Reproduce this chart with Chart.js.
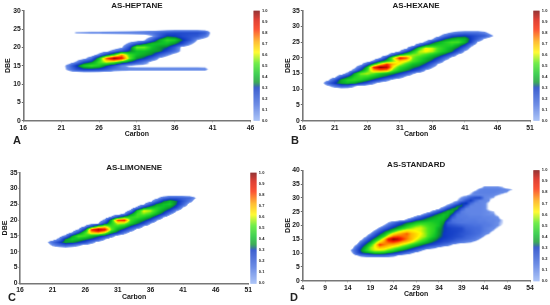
<!DOCTYPE html>
<html>
<head>
<meta charset="utf-8">
<script src="https://cdn.jsdelivr.net/npm/chart.js@4"></script>
<style>
html,body{margin:0;padding:0;background:#fff;overflow:hidden}
canvas{position:absolute;filter:blur(0.3px)}
.tag{position:absolute;font:bold 11px "Liberation Sans";color:#222;line-height:11px}
</style>
</head>
<body>
<canvas id="chartA"></canvas>
<canvas id="chartB"></canvas>
<canvas id="chartC"></canvas>
<canvas id="chartD"></canvas>
<div class="tag" style="left:13px;top:135px">A</div>
<div class="tag" style="left:291px;top:135px">B</div>
<div class="tag" style="left:8px;top:292px">C</div>
<div class="tag" style="left:290px;top:292px">D</div>
<script>
// each row: DBE, first carbon, then the relative abundance per carbon number
var heptaneRows = [
 [14,22,.10,.22,.28,.28,.26,.20,.13,.11,.10,.10,.10,.10,.10,.10,.10,.10,.10,.10,.10],
 [15,22,.12,.30,.45,.50,.45,.32,.22,.10,.05,.04,.04,.04,.04,.04,.04,.04,.04,.04,.03],
 [16,23,.08,.25,.33,.50,.60,.55,.42,.32,.22,.12,.03],
 [17,24,.03,.15,.42,.80,1.0,.88,.55,.36,.30,.18,.05],
 [18,26,.10,.28,.45,.72,.50,.42,.38,.33,.20,.10,.02],
 [19,27,.03,.12,.22,.32,.42,.42,.38,.35,.25,.15,.03],
 [20,29,.05,.25,.55,.55,.42,.36,.32,.20,.02],
 [21,30,.10,.22,.32,.42,.42,.42,.35,.25,.10],
 [22,32,.05,.20,.38,.48,.45,.32,.22,.06],
 [23,33,.06,.20,.32,.30,.25,.22,.20,.12],
 [24,23,.08,.085,.09,.09,.095,.10,.105,.11,.12,.13,.14,.18,.22,.24,.24,.24,.24,.20]
]
var hexaneRows = [
 [11,20,.05,.12,.20,.18,.08,.02],
 [12,19,.02,.18,.30,.38,.42,.38,.30,.22,.10,.02],
 [13,20,.04,.20,.38,.46,.48,.45,.38,.30,.22,.12,.03],
 [14,21,.02,.20,.32,.45,.50,.48,.42,.36,.30,.24,.14,.04],
 [15,23,.12,.38,.55,.58,.52,.45,.40,.35,.28,.20,.08],
 [16,24,.12,.32,.50,.70,.75,.72,.52,.42,.35,.28,.20,.05],
 [17,24,.03,.18,.42,.85,1.0,.95,.62,.48,.42,.35,.30,.20,.08],
 [18,25,.03,.20,.42,.65,.82,.70,.60,.50,.42,.38,.30,.18,.04],
 [19,27,.10,.30,.42,.55,.68,.62,.52,.45,.38,.30,.18,.04],
 [20,28,.06,.28,.60,.88,.80,.55,.48,.42,.36,.28,.15,.03],
 [21,29,.03,.20,.38,.50,.56,.55,.50,.44,.38,.30,.18,.04],
 [22,31,.08,.25,.42,.58,.62,.58,.48,.42,.34,.20,.05],
 [23,32,.05,.25,.48,.64,.60,.50,.44,.38,.30,.15,.02],
 [24,33,.02,.20,.35,.42,.45,.45,.45,.38,.28,.10],
 [25,35,.10,.28,.38,.45,.50,.50,.40,.25,.05],
 [26,36,.05,.20,.32,.38,.42,.40,.28,.18,.05],
 [27,37,.04,.15,.25,.28,.30,.26,.22,.20,.10],
 [28,38,.03,.08,.12,.14,.14,.14,.10,.02]
]
var limoneneRows = [
 [12,21,.08,.14,.18,.14,.08,.02],
 [13,20,.03,.15,.26,.38,.36,.30,.24,.12,.02],
 [14,22,.10,.35,.44,.42,.36,.30,.22,.08],
 [15,22,.02,.10,.36,.52,.50,.42,.35,.28,.14,.02],
 [16,24,.08,.28,.50,.68,.72,.60,.38,.28,.12,.02],
 [17,25,.08,.32,.85,1.0,.90,.55,.38,.28,.15,.02],
 [18,26,.08,.28,.50,.62,.50,.48,.42,.30,.20,.05],
 [19,28,.06,.25,.45,.60,.58,.45,.35,.25,.08],
 [20,29,.10,.40,.82,.85,.50,.42,.35,.25,.08],
 [21,30,.08,.25,.40,.48,.50,.45,.38,.25,.08],
 [22,32,.08,.32,.50,.55,.50,.40,.28,.10],
 [23,33,.10,.42,.62,.58,.46,.36,.26,.08],
 [24,34,.10,.30,.40,.45,.42,.36,.25,.06],
 [25,35,.06,.22,.36,.42,.44,.32,.18,.02],
 [26,36,.03,.18,.32,.40,.33,.22,.12],
 [27,37,.04,.14,.20,.20,.18,.16,.06]
]
var standardRows = [
 [9,16,.05,.10,.12,.14,.15,.15,.15,.12,.10,.05],
 [10,15,.06,.20,.30,.34,.38,.42,.42,.40,.36,.30,.26,.20,.14,.08,.03],
 [11,15,.10,.22,.35,.46,.55,.60,.60,.58,.52,.48,.40,.36,.30,.24,.18,.10,.03],
 [12,15,.03,.18,.30,.42,.56,.62,.70,.68,.64,.58,.54,.48,.42,.36,.30,.26,.20,.14,.10,.05,.02],
 [13,16,.08,.24,.34,.48,.62,.82,.76,.72,.70,.66,.60,.55,.48,.42,.36,.31,.27,.24,.20,.16,.12,.06,.02],
 [14,17,.14,.26,.36,.52,.66,.74,.80,.82,.78,.72,.68,.62,.55,.48,.42,.36,.31,.28,.24,.22,.18,.15,.12,.10,.08,.04],
 [15,17,.04,.16,.28,.38,.52,.68,.90,1.0,.96,.84,.76,.70,.62,.56,.50,.42,.36,.31,.28,.26,.24,.20,.18,.16,.14,.12,.06],
 [16,18,.06,.18,.28,.38,.50,.66,.78,.80,.78,.76,.70,.66,.60,.56,.48,.42,.34,.30,.28,.26,.24,.22,.18,.16,.14,.12,.06],
 [17,19,.08,.20,.30,.38,.52,.64,.70,.74,.78,.70,.66,.62,.56,.50,.44,.36,.30,.28,.27,.25,.22,.20,.18,.16,.14,.10,.07],
 [18,20,.10,.20,.30,.36,.46,.56,.62,.66,.64,.62,.60,.55,.50,.46,.36,.31,.28,.27,.26,.24,.20,.18,.16,.15,.12,.10,.06],
 [19,21,.10,.18,.26,.32,.38,.46,.52,.56,.60,.60,.55,.50,.46,.38,.31,.28,.26,.25,.24,.18,.17,.16,.15,.12,.10,.09,.05],
 [20,22,.08,.16,.24,.30,.34,.42,.48,.52,.55,.52,.48,.46,.42,.32,.24,.22,.20,.18,.16,.15,.14,.14,.12,.12,.10,.08,.05],
 [21,23,.08,.14,.22,.28,.32,.36,.42,.45,.46,.46,.44,.42,.36,.20,.16,.14,.13,.13,.13,.13,.12,.12,.11,.10,.08,.06],
 [22,26,.03,.10,.20,.28,.32,.36,.40,.42,.42,.40,.28,.14,.13,.13,.12,.12,.12,.11,.11,.10,.10,.09,.06],
 [23,28,.04,.12,.20,.28,.33,.38,.42,.42,.36,.20,.13,.12,.12,.11,.11,.11,.10,.10,.09,.08],
 [24,30,.04,.12,.22,.30,.36,.42,.40,.30,.14,.12,.11,.10,.10,.10,.09,.08,.08,.04],
 [25,32,.05,.14,.24,.32,.40,.38,.24,.12,.10,.10,.10,.10,.09,.08,.07],
 [26,34,.06,.16,.28,.36,.36,.20,.10,.10,.10,.10,.09,.05],
 [27,35,.04,.12,.22,.34,.34,.18,.10,.10,.10,.09,.05],
 [28,36,.03,.08,.16,.30,.32,.16,.10,.10,.09,.05],
 [29,37,.03,.06,.12,.22,.28,.16,.10,.10,.08],
 [30,38,.04,.08,.12,.20,.24,.24,.10,.08,.07],
 [31,38,.02,.04,.05,.08,.10,.10,.10,.10,.09,.07,.04],
 [32,41,.05,.10,.11,.11,.11,.11,.10,.09,.07],
 [33,42,.04,.10,.11,.11,.11,.11,.10,.10,.07],
 [34,43,.02,.08,.08,.08,.08,.06]
]

var heptaneXTicks = [16,21,26,31,36,41,46]
var hexaneXTicks = [16,21,26,31,36,41,46,51]
var limoneneXTicks = [16,21,26,31,36,41,46,51]
var standardXTicks = [4,9,14,19,24,29,34,39,44,49,54]
var heptaneYTicks = [0,5,10,15,20,25,30]
var hexaneYTicks = [0,5,10,15,20,25,30,35]
var limoneneYTicks = [0,5,10,15,20,25,30,35]
var standardYTicks = [0,5,10,15,20,25,30,35,40]
var barTicks = [0,.1,.2,.3,.4,.5,.6,.7,.8,.9,1]

// colour scale of the bar
var stopValues = [0,.15,.3,.315,.35,.42,.52,.62,.72,.83,.92,1]
var stopColors = [[150,180,245],[70,110,222],[12,55,195],[10,85,130],[12,150,45],[15,195,40],[75,232,30],[255,250,0],[255,170,0],[250,40,0],[215,15,0],[120,0,0]]

function colorFor(v){
	var i = 0
	while(i<stopValues.length-2 && v>stopValues[i+1]) i++
	var t = Math.min(1,Math.max(0,(v-stopValues[i])/(stopValues[i+1]-stopValues[i])))
	var a = stopColors[i], b = stopColors[i+1]
	return [a[0]+(b[0]-a[0])*t, a[1]+(b[1]-a[1])*t, a[2]+(b[2]-a[2])*t]
}

function toPoints(rows){
	var pts = []
	rows.forEach(function(r){
		for(var i=2;i<r.length;i++) pts.push({x:r[1]+i-2,y:r[0],v:r[i]})
	})
	return pts
}

// paints the points as a smooth map and the colour bar next to the axes
var heatPlugin = {
	id:"heat",
	beforeDatasetsDraw:function(chart){
		var ctx = chart.ctx, area = chart.chartArea, xs = chart.scales.x, ys = chart.scales.y, cb = chart.scales.cb
		var cells = {}
		chart.data.datasets[0].data.forEach(function(p){ cells[p.x+"_"+p.y] = p.v })
		var get = function(x,y){ return cells[x+"_"+y] || 0 }
		var w = Math.ceil(area.width), h = Math.ceil(area.height)
		var off = document.createElement("canvas")
		off.width = w; off.height = h
		var octx = off.getContext("2d"), img = octx.createImageData(w,h)
		for(var py=0;py<h;py++){
			var dy = ys.getValueForPixel(area.top+py+.5), y0 = Math.floor(dy), fy = dy-y0
			for(var px=0;px<w;px++){
				var dx = xs.getValueForPixel(area.left+px+.5), x0 = Math.floor(dx), fx = dx-x0
				var v = get(x0,y0)*(1-fx)*(1-fy)+get(x0+1,y0)*fx*(1-fy)+get(x0,y0+1)*(1-fx)*fy+get(x0+1,y0+1)*fx*fy
				if(v<.05) continue
				var c = colorFor(v), k = (py*w+px)*4
				img.data[k]=c[0]; img.data[k+1]=c[1]; img.data[k+2]=c[2]
				img.data[k+3]=255*Math.min(1,(v-.05)/.03)
			}
		}
		octx.putImageData(img,0,0)
		ctx.save()
		ctx.filter = "blur(0.6px)"
		ctx.drawImage(off,area.left,area.top)
		ctx.restore()

		var o = chart.options.barBox
		var top = cb.getPixelForValue(1), bottom = cb.getPixelForValue(0)
		for(var b=top;b<bottom;b++){
			var col = colorFor(cb.getValueForPixel(b+.5))
			ctx.fillStyle = "rgb("+col[0]+","+col[1]+","+col[2]+")"
			ctx.fillRect(area.right+o.gap,b,o.width,1)
		}
	}
}

var font = "Liberation Sans"
var ink = "#1a1a1a"
var xAxisHeight = 17.6

function makeChart(id,name,rows,xTicks,yTicks,box){
	var el = document.getElementById(id)
	el.style.left = box.left+"px"
	el.style.top = box.top+"px"
	el.width = box.w; el.height = box.h
	var setTicks = function(list){ return function(s){ s.ticks = list.map(function(v){ return {value:v} }) } }
	// the axes must not push the plot around for labels that stick out
	var noPad = function(s){ s.paddingTop = 0; s.paddingBottom = 0; s.paddingLeft = 0; s.paddingRight = 0 }
	return new Chart(el,{
		type:"scatter",
		plugins:[heatPlugin],
		data:{datasets:[{data:toPoints(rows),pointRadius:0}]},
		options:{
			responsive:false,
			animation:false,
			barBox:{gap:box.gap,width:6.3},
			layout:{padding:{left:box.pad,right:0,top:0,bottom:box.h-box.areaBottom-xAxisHeight}},
			plugins:{
				legend:{display:false},
				tooltip:{enabled:false},
				title:{display:true,text:name,fullSize:false,color:ink,
					font:{family:font,weight:"bold",size:8,lineHeight:1.2},
					padding:{top:box.titleY-4.8,bottom:box.areaTop-box.titleY-4.8}}
			},
			scales:{
				x:{type:"linear",min:xTicks[0],max:xTicks[xTicks.length-1],
					afterBuildTicks:setTicks(xTicks),
					afterFit:function(s){ s.height = xAxisHeight; noPad(s) },
					grid:{drawOnChartArea:false,tickLength:1.5,color:"#666"},
					border:{color:"#777",width:1.6},
					ticks:{autoSkip:false,maxRotation:0,padding:1.5,color:ink,font:{family:font,weight:"bold",size:6.8}},
					title:{display:true,text:"Carbon",color:ink,padding:0,font:{family:font,weight:"bold",size:7,lineHeight:1.2}}},
				y:{type:"linear",min:yTicks[0],max:yTicks[yTicks.length-1],
					afterBuildTicks:setTicks(yTicks),
					afterFit:function(s){ s.width = box.areaLeft-box.pad; noPad(s) },
					grid:{drawOnChartArea:false,tickLength:1.5,color:"#666"},
					border:{color:"#777",width:1.6},
					ticks:{autoSkip:false,padding:1,color:ink,font:{family:font,weight:"bold",size:6.8}},
					title:{display:true,text:"DBE",color:ink,padding:0,font:{family:font,weight:"bold",size:7,lineHeight:1.2}}},
				cb:{type:"linear",position:"right",min:0,max:1,
					afterBuildTicks:setTicks(barTicks),
					afterFit:function(s){ s.width = box.w-box.areaRight; noPad(s) },
					grid:{drawOnChartArea:false,drawTicks:false},
					border:{display:false},
					ticks:{autoSkip:false,padding:box.gap+8.5,color:ink,font:{family:font,weight:"bold",size:4},
						callback:function(v){ return v.toFixed(1) }}}
			}
		}
	})
}

makeChart("chartA","AS-HEPTANE",heptaneRows,heptaneXTicks,heptaneYTicks,
	{left:0,top:0,w:275,h:152,pad:4,gap:3,areaLeft:23.3,areaRight:250.5,areaTop:10.7,areaBottom:120.7,titleY:6})
makeChart("chartB","AS-HEXANE",hexaneRows,hexaneXTicks,hexaneYTicks,
	{left:275,top:0,w:275,h:152,pad:8.5,gap:3.3,areaLeft:27.3,areaRight:255,areaTop:10.7,areaBottom:120.7,titleY:6})
makeChart("chartC","AS-LIMONENE",limoneneRows,limoneneXTicks,limoneneYTicks,
	{left:0,top:152,w:275,h:153,pad:1,gap:2,areaLeft:20,areaRight:248.3,areaTop:20.7,areaBottom:131.3,titleY:15.7})
makeChart("chartD","AS-STANDARD",standardRows,standardXTicks,standardYTicks,
	{left:275,top:152,w:275,h:153,pad:8.5,gap:3.3,areaLeft:27.3,areaRight:255,areaTop:18.3,areaBottom:128.7,titleY:12.7})
</script>
</body>
</html>
